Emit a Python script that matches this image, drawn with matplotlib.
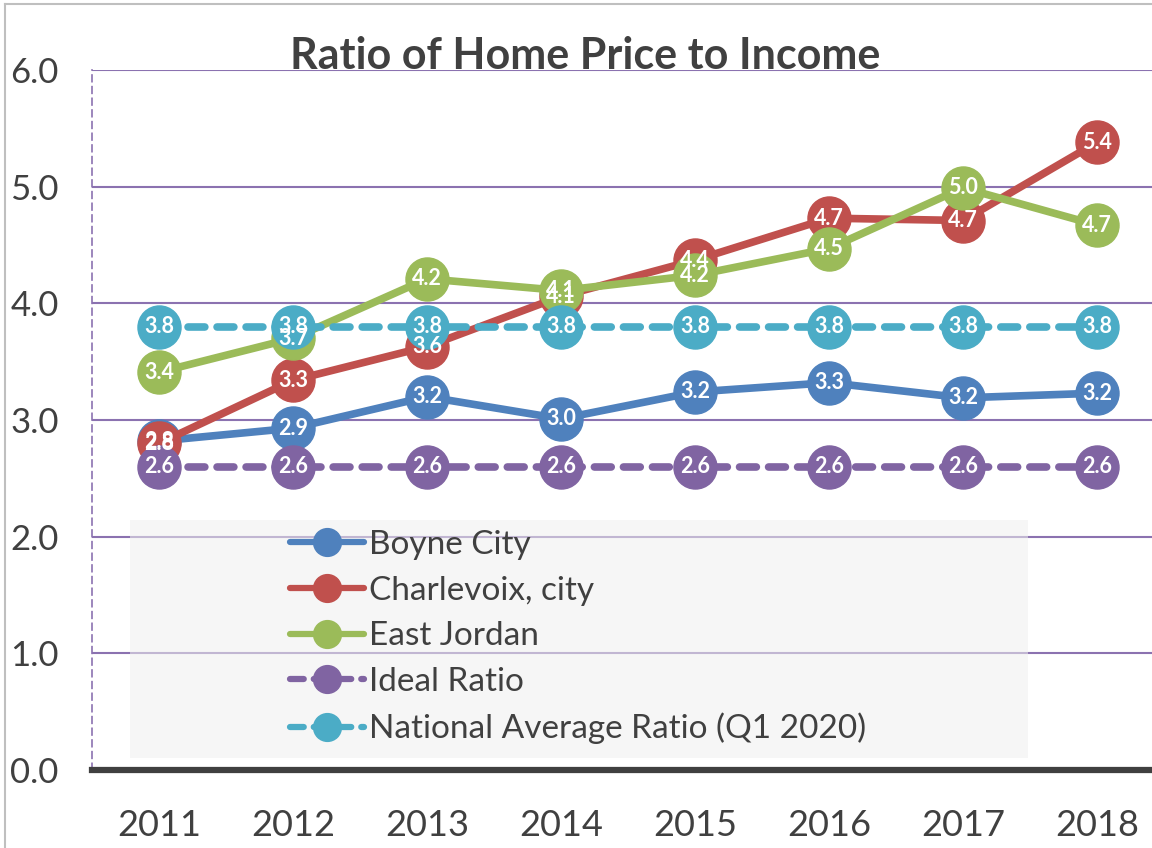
import matplotlib
matplotlib.use("Agg")
import matplotlib.pyplot as plt
from matplotlib.patches import Rectangle
from matplotlib.lines import Line2D

plt.rcParams['font.family'] = ['Lato', 'DejaVu Sans']

years = ["2011", "2012", "2013", "2014", "2015", "2016", "2017", "2018"]
boyne_city = [2.82, 2.93, 3.20, 3.01, 3.24, 3.32, 3.19, 3.23]
charlevoix = [2.80, 3.34, 3.63, 4.06, 4.37, 4.73, 4.71, 5.38]
east_jordan = [3.41, 3.70, 4.21, 4.11, 4.24, 4.47, 4.99, 4.67]
ideal_ratio = [2.6] * 8
national_avg = [3.8] * 8

series = [
    ("Boyne City", boyne_city, "#4F81BD", "-"),
    ("Charlevoix, city", charlevoix, "#C0504D", "-"),
    ("East Jordan", east_jordan, "#9BBB59", "-"),
    ("Ideal Ratio", ideal_ratio, "#8064A2", (0, (2.2, 1.6))),
    ("National Average Ratio (Q1 2020)", national_avg, "#4BACC6", (0, (2.2, 1.6))),
]

text_col = "#404040"
grid_col = "#8B72B0"

fig = plt.figure(figsize=(11.52, 8.48), dpi=100)
ax = fig.add_axes([92/1152, 78/848, (1164-92)/1152, 700/848])

x = list(range(len(years)))
handles = []
for i, (name, vals, col, ls) in enumerate(series):
    ax.plot(x, vals, color=col, lw=5.5, ls=ls, marker="o", ms=31,
            markerfacecolor=col, markeredgecolor=col, zorder=3 + i,
            solid_capstyle="round", dash_capstyle="round")
    for xi, v in zip(x, vals):
        ax.text(xi, v, f"{v:.1f}", color="white", fontsize=15.5, fontweight="bold",
                ha="center", va="center", zorder=20)
    h = Line2D([0], [0], color=col, lw=4.5, ls=ls, marker="o", ms=20,
               markerfacecolor=col, markeredgecolor=col, dash_capstyle="round",
               solid_capstyle="round")
    handles.append(h)

ax.set_xlim(-0.5, 7.5)
ax.set_ylim(0, 6)
ax.set_yticks([0, 1, 2, 3, 4, 5, 6])
ax.set_yticklabels([f"{t:.1f}" for t in range(7)])
ax.set_xticks(x)
ax.set_xticklabels(years)
ax.tick_params(axis="y", length=0, labelsize=25, labelcolor=text_col, pad=24)
ax.tick_params(axis="x", length=0, labelsize=26, labelcolor=text_col, pad=28)
for y in [1, 2, 3, 4, 5, 6]:
    ax.axhline(y, color=grid_col, lw=1.5, zorder=1)

for s in ["top", "right"]:
    ax.spines[s].set_visible(False)
ax.spines["left"].set_color(grid_col)
ax.spines["left"].set_linestyle((0, (4, 3)))
ax.spines["left"].set_linewidth(1.2)
ax.spines["bottom"].set_color("#404040")
ax.spines["bottom"].set_linewidth(4.5)
ax.spines["bottom"].set_zorder(25)

# legend background box
ax.add_patch(Rectangle((-0.216, 0.103), 6.70, 2.04, transform=ax.transData,
                       facecolor="#EFEFEF", alpha=0.55, edgecolor="none", zorder=2))
leg = ax.legend(handles, [s[0] for s in series], loc="upper left",
                bbox_to_anchor=(0.185, 0.343), frameon=False, fontsize=24,
                handlelength=2.2, handletextpad=0.15, labelspacing=0.47,
                labelcolor=text_col, borderaxespad=0, borderpad=0)
leg.set_zorder(30)

fig.text(585/1152, 1 - 56/848, "Ratio of Home Price to Income", ha="center",
         va="center", fontsize=31, fontweight="bold", color=text_col)

# outer frame lines
fig.add_artist(Line2D([5/1152, 1], [1 - 4/848, 1 - 4/848], color="#BFBFBF", lw=1.5))
fig.add_artist(Line2D([5/1152, 5/1152], [0, 1 - 4/848], color="#BFBFBF", lw=1.5))

fig.savefig("out.png", dpi=100)
